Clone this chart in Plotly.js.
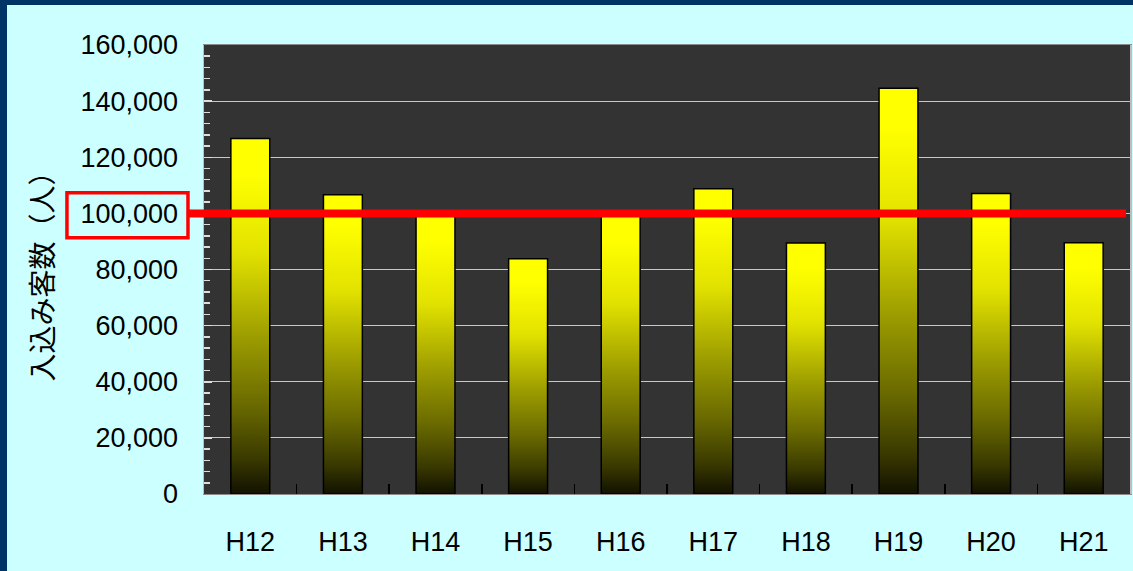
<!DOCTYPE html>
<html>
<head>
<meta charset="utf-8">
<script src="https://cdn.plot.ly/plotly-3.0.1.min.js"></script>
<style>
  html, body { margin: 0; padding: 0; background: #ccffff; }
  #wrap { position: relative; width: 1133px; height: 571px; overflow: hidden; }
  #chart { width: 1133px; height: 571px; }
  .frame { position: absolute; background: #003366; pointer-events: none; }
</style>
</head>
<body>
<div id="wrap">
  <div id="chart"></div>
  <div class="frame" style="left:0;top:0;width:1133px;height:5px;"></div>
  <div class="frame" style="left:0;top:0;width:7px;height:571px;"></div>
</div>
<script>
// ---- data ----
const categories = ['H12', 'H13', 'H14', 'H15', 'H16', 'H17', 'H18', 'H19', 'H20', 'H21'];
const visitors = [126700, 106600, 100000, 83800, 100300, 108800, 89400, 144600, 107100, 89500];
const referenceValue = 100000;
const yTickValues = [0, 20000, 40000, 60000, 80000, 100000, 120000, 140000, 160000];
const yTickLabels = ['0', '20,000', '40,000', '60,000', '80,000', '100,000', '120,000', '140,000', '160,000'];
const yTitle = '入込み客数（人）';

const numFont = 'Liberation Sans, Arial, sans-serif';

const trace = {
  type: 'bar',
  x: categories,
  y: visitors,
  marker: { color: '#ffff00', line: { color: '#000000', width: 1.5 } },
  hoverinfo: 'x+y'
};

const layout = {
  width: 1133,
  height: 571,
  margin: { l: 204, r: 3, t: 45, b: 76.5, pad: 0 },
  paper_bgcolor: '#ccffff',
  plot_bgcolor: '#333333',
  bargap: 0.58,
  showlegend: false,
  font: { family: numFont, color: '#000000', size: 27 },
  xaxis: {
    type: 'category',
    showline: true, linecolor: '#8c8c8c', linewidth: 1, mirror: true,
    ticks: 'inside', tickson: 'boundaries', ticklen: 10, tickcolor: '#000000', tickwidth: 1.5,
    tickfont: { family: numFont, size: 27, color: '#000000' },
    ticklabelstandoff: 24,
    showgrid: false, zeroline: false, fixedrange: true
  },
  yaxis: {
    range: [0, 160000],
    tickvals: yTickValues, ticktext: yTickLabels,
    showline: true, linecolor: '#bdbdbd', linewidth: 1.5, mirror: true,
    ticks: 'inside', ticklen: 8, tickcolor: '#dddddd', tickwidth: 1.5,
    minor: { dtick: 4000, ticks: 'inside', ticklen: 6, tickcolor: '#dddddd', tickwidth: 1.5, showgrid: false },
    showgrid: true, gridcolor: '#c8c8c8', gridwidth: 1.2,
    zeroline: false,
    tickfont: { family: numFont, size: 27, color: '#000000' },
    ticklabelstandoff: 19,
    title: { text: yTitle, font: { family: 'Noto Sans CJK JP, sans-serif', size: 28, color: '#000000' }, standoff: 18 },
    fixedrange: true
  },
  shapes: [
    { type: 'line', xref: 'paper', yref: 'y', x0: -0.0173, x1: 0.9957, y0: referenceValue, y1: referenceValue,
      line: { color: '#ff0000', width: 8 }, layer: 'above' },
    { type: 'rect', xref: 'paper', yref: 'paper', x0: -0.148, x1: -0.0173, y0: 0.5706, y1: 0.6707,
      line: { color: '#ff0000', width: 3.5 }, fillcolor: 'rgba(0,0,0,0)', layer: 'above' }
  ]
};

Plotly.newPlot('chart', [trace], layout, { displayModeBar: false, staticPlot: true }).then(function (gd) {
  const svgNS = 'http://www.w3.org/2000/svg';
  const defs = gd.querySelector('.main-svg defs');
  const grad = document.createElementNS(svgNS, 'linearGradient');
  grad.setAttribute('id', 'barGrad');
  grad.setAttribute('x1', '0'); grad.setAttribute('y1', '0');
  grad.setAttribute('x2', '0'); grad.setAttribute('y2', '1');
  const stops = [[0, '#ffff00'], [0.1, '#ffff00'], [0.32, '#e2e200'], [0.56, '#9c9c00'], [0.75, '#6a6a00'], [0.9, '#3a3a00'], [1, '#121100']];
  stops.forEach(function (s) {
    const st = document.createElementNS(svgNS, 'stop');
    st.setAttribute('offset', s[0]);
    st.setAttribute('stop-color', s[1]);
    grad.appendChild(st);
  });
  defs.appendChild(grad);
  gd.querySelectorAll('.trace.bars .point path').forEach(function (p) {
    p.style.setProperty('fill', 'url(#barGrad)');
  });
});
</script>
</body>
</html>
